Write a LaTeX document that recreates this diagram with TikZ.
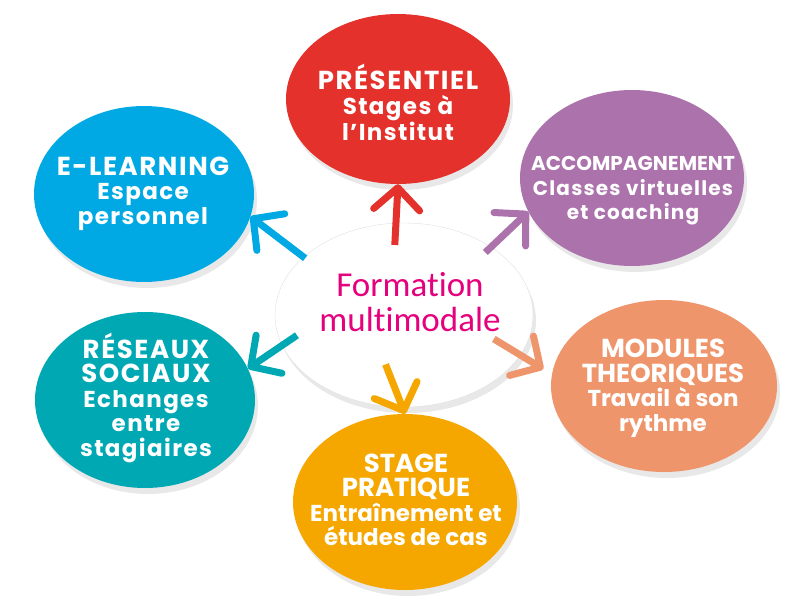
\documentclass[tikz,border=0pt]{standalone}
\usepackage{fontspec}
\usepackage{xcolor}
\usetikzlibrary{arrows.meta,shadows,shapes.geometric}
\setmainfont{Poppins}
\newfontfamily\formationfont{Carlito}[Ligatures=NoCommon]
\newfontfamily\spacedfont{Poppins}[LetterSpace=6]
\newcommand\capsline{\fontsize{26}{24.5}\selectfont}

\definecolor{presentielred}{HTML}{E4312B}
\definecolor{elearningblue}{HTML}{00A9E3}
\definecolor{accompurple}{HTML}{AB72AC}
\definecolor{modulesalmon}{HTML}{EF956B}
\definecolor{reseauteal}{HTML}{00A8B4}
\definecolor{stageorange}{HTML}{F5A700}
\definecolor{formationpink}{HTML}{E5007E}

\begin{document}
\begin{tikzpicture}[x=1pt,y=-1pt,
  bubble/.style={ellipse,inner sep=0pt,drop shadow={opacity=0.18,shadow xshift=3pt,shadow yshift=-6pt}},
  bubbletext/.style={align=center,text=white,inner sep=0pt,font=\bfseries\fontsize{23}{24.5}\selectfont},
  spacedtext/.style={bubbletext,font=\spacedfont\bfseries\fontsize{23}{24.5}\selectfont},
  brush/.style={line width=7pt,-{Straight Barb[length=22pt,width=46pt,line width=7pt,round]}}]
\useasboundingbox (0,0) rectangle (800,610);
% outer bubbles
\draw (398,99) node[bubble,fill=presentielred,minimum width=224pt,minimum height=170pt](presentiel) {};
\draw (144,194) node[bubble,fill=elearningblue,minimum width=220pt,minimum height=176pt](elearning) {};
\draw (632,178) node[bubble,fill=accompurple,minimum width=224pt,minimum height=176pt](accompagnement) {};
\draw (145,400) node[bubble,fill=reseauteal,minimum width=220pt,minimum height=176pt](reseaux) {};
\draw (664,386) node[bubble,fill=modulesalmon,minimum width=226pt,minimum height=172pt](modules) {};
\draw (405,502) node[bubble,fill=stageorange,minimum width=224pt,minimum height=176pt](stage) {};
% centre
\draw (404,315) node[bubble,fill=white,draw=black!12,minimum width=258pt,minimum height=184pt](formation) {};
% texts
\draw (398,102.5) node[spacedtext](presentiel-text) {{\capsline PRÉSENTIEL}\\Stages à\\l’Institut};
\draw (143,193.5) node[spacedtext](elearning-text) {{\capsline E-LEARNING}\\Espace\\personnel};
\draw (633,191) node[bubbletext,font=\bfseries\fontsize{20}{24.5}\selectfont](accompagnement-text) {ACCOMPAGNEMENT\\{\spacedfont Classes virtuelles}\\{\spacedfont et coaching}};
\draw (146,397.5) node[spacedtext](reseaux-text) {{\capsline RÉSEAUX}\\{\capsline SOCIAUX}\\Echanges\\entre\\stagiaires};
\draw (663,388.5) node[bubbletext](modules-text) {{\capsline MODULES}\\{\capsline THEORIQUES}\\Travail à son\\rythme};
\draw (406,500) node[bubbletext](stage-text) {{\capsline STAGE}\\{\capsline PRATIQUE}\\Entraînement et\\études de cas};
\draw (410,302) node[align=center,inner sep=0pt,text=formationpink,font=\formationfont\fontsize{35}{35}\selectfont](formation-text) {Formation\\multimodale};
% arrows
\draw[brush,presentielred,shorten <=-22pt] (formation.95.6) -- (presentiel.south);
\draw[brush,accompurple,shorten <=-8pt] (formation.38) -- (accompagnement.198);
\draw[brush,elearningblue,shorten <=-2pt] (formation.150) -- (elearning.-12);
\draw[brush,reseauteal,shorten <=-18pt] (formation.194.6) -- (reseaux.17.6);
\draw[brush,modulesalmon,shorten <=-31pt,shorten >=10pt] (formation.-19.2) -- (modules.174);
\draw[brush,stageorange,shorten <=-46pt] (formation.-91) -- (stage.north);
\end{tikzpicture}
\end{document}
